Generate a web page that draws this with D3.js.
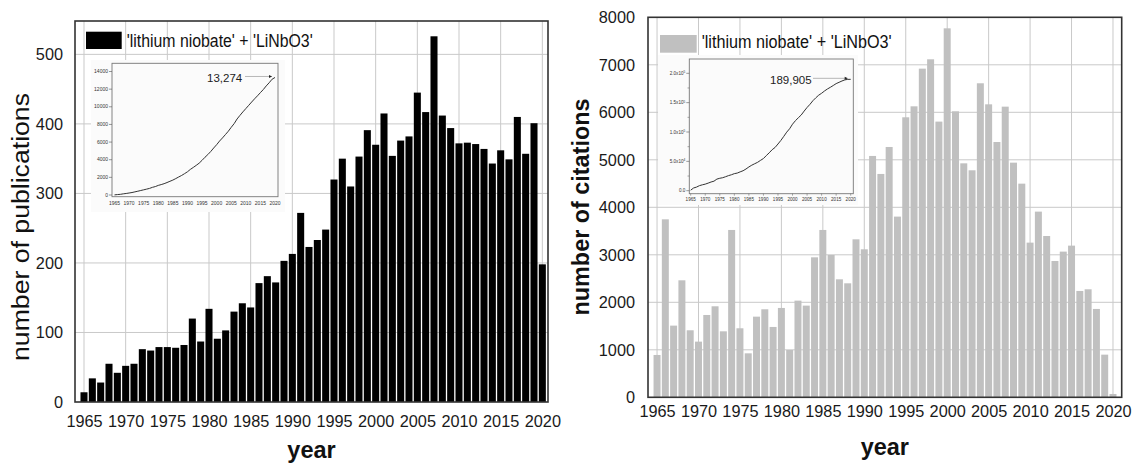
<!DOCTYPE html>
<html><head><meta charset="utf-8">
<script src="https://cdn.jsdelivr.net/npm/d3@7"></script>
<style>
body{margin:0;background:#fff;}
svg{display:block;font-family:"Liberation Sans",Arial,Helvetica,sans-serif;}
</style></head><body>
<svg id="c" width="1135" height="465"></svg>
<script>
// ---------- data ----------
const years = [1965,1966,1967,1968,1969,1970,1971,1972,1973,1974,1975,1976,1977,1978,1979,1980,1981,1982,1983,1984,1985,1986,1987,1988,1989,1990,1991,1992,1993,1994,1995,1996,1997,1998,1999,2000,2001,2002,2003,2004,2005,2006,2007,2008,2009,2010,2011,2012,2013,2014,2015,2016,2017,2018,2019,2020];
const publications = [14,34,28,55,42,52,55,76,74,79,79,78,82,120,87,134,91,103,130,142,136,171,181,172,203,213,272,223,233,248,320,350,310,353,391,370,415,354,376,382,445,417,526,412,394,372,373,371,364,343,362,349,410,357,401,198];
const citations = [891,3747,1509,2463,1411,1172,1733,1916,1389,3523,1453,926,1698,1853,1481,1881,996,2035,1930,2947,3523,2996,2484,2400,3326,3116,5081,4702,5270,3804,5895,6126,6919,7116,5804,7768,6021,4926,4779,6611,6168,5375,6119,4940,4498,3256,3909,3396,2870,3067,3193,2239,2274,1860,898,70];
const yearTicks = [1965,1970,1975,1980,1985,1990,1995,2000,2005,2010,2015,2020];
const pubTicks = [0,100,200,300,400,500];
const citTicks = [0,1000,2000,3000,4000,5000,6000,7000,8000];
const pubInsetTicks = [0,2000,4000,6000,8000,10000,12000,14000];
const citInsetTicks = [0,50000,100000,150000,200000];
const citInsetMinor = [25000,75000,125000,175000];
const citInsetTickLabels = [["0.0",""],["5.0x10","4"],["1.0x10","5"],["1.5x10","5"],["2.0x10","5"]];
const legendLabel = "'lithium niobate' + 'LiNbO3'";
const pubTotalLabel = "13,274";
const citTotalLabel = "189,905";
const pubYTitle = "number of publications";
const citYTitle = "number of citations";
const xTitle = "year";

const svg = d3.select("#c");
svg.append("rect").attr("width",1135).attr("height",465).attr("fill","#fff");

function panel(cfg){
  const g = svg.append("g");
  const x = d3.scaleLinear().domain(cfg.xDom).range([cfg.x0,cfg.x1]);
  const y = d3.scaleLinear().domain([0,cfg.yMax]).range([cfg.y1,cfg.y0]);
  // grid
  g.append("g").selectAll("line").data(cfg.yTicks.filter(d=>d>0 && y(d)>cfg.y0+1)).join("line")
    .attr("x1",cfg.x0).attr("x2",cfg.x1).attr("y1",d=>y(d)).attr("y2",d=>y(d))
    .attr("stroke","#c9c9c9").attr("stroke-width",1);
  g.append("g").selectAll("line").data(yearTicks).join("line")
    .attr("x1",d=>x(d)).attr("x2",d=>x(d)).attr("y1",cfg.y0).attr("y2",cfg.y1)
    .attr("stroke","#c9c9c9").attr("stroke-width",1);
  // bars
  const step = x(1966)-x(1965);
  const bw = step-1.3;
  g.append("g").selectAll("rect").data(cfg.values).join("rect")
    .attr("x",(d,i)=>x(years[i])-bw/2).attr("width",bw)
    .attr("y",d=>y(d)).attr("height",d=>y(0)-y(d))
    .attr("fill",cfg.barColor);
  // axes
  const ya = g.append("g").attr("transform",`translate(${cfg.x0},0)`)
    .call(d3.axisLeft(y).tickValues(cfg.yTicks).tickSize(0).tickPadding(cfg.yPad).tickFormat(d3.format("d")));
  const xa = g.append("g").attr("transform",`translate(0,${cfg.y1})`)
    .call(d3.axisBottom(x).tickValues(yearTicks).tickSize(0).tickPadding(cfg.xPad).tickFormat(d3.format("d")));
  [ya,xa].forEach(a=>{a.select(".domain").remove();
    a.selectAll("text").attr("font-size",16.3).attr("fill","#1a1a1a").attr("font-family","Liberation Sans, Arial, sans-serif");});
  // legend
  g.append("rect").attr("x",cfg.leg[0]).attr("y",cfg.leg[1]).attr("width",cfg.leg[2]).attr("height",cfg.leg[3])
    .attr("fill",cfg.barColor);
  g.append("text").attr("x",cfg.leg[0]+cfg.leg[2]+5).attr("y",cfg.legBase)
    .attr("font-size",17.5).attr("fill","#111").attr("textLength",cfg.legLen).attr("lengthAdjust","spacingAndGlyphs")
    .text(legendLabel);
  // titles
  g.append("text").attr("transform",`translate(${cfg.ytX},${cfg.ytY}) rotate(-90)`)
    .attr("text-anchor","middle").attr("font-size",cfg.ytSize).attr("font-weight",cfg.ytWeight)
    .attr("textLength",cfg.ytLen).attr("lengthAdjust","spacingAndGlyphs").attr("fill","#111")
    .text(cfg.yTitle);
  g.append("text").attr("x",(cfg.x0+cfg.x1)/2).attr("y",cfg.xtY).attr("text-anchor","middle")
    .attr("font-size",23.5).attr("font-weight","bold").attr("fill","#111").text(xTitle);
  // inset
  const I = cfg.inset;
  g.append("rect").attr("x",I.bg[0]).attr("y",I.bg[1]).attr("width",I.bg[2]-I.bg[0]).attr("height",I.bg[3]-I.bg[1])
    .attr("fill","#fbfbfb");
  const ix = d3.scaleLinear().domain([1965,2020]).range(I.xr);
  const iy = d3.scaleLinear().domain(I.yd).range(I.yr);
  g.append("rect").attr("x",I.fr[0]).attr("y",I.fr[1]).attr("width",I.fr[2]-I.fr[0]).attr("height",I.fr[3]-I.fr[1])
    .attr("fill","none").attr("stroke","#777").attr("stroke-width",0.9);
  const cum = d3.cumsum(cfg.values);
  g.append("path").datum(Array.from(cum))
    .attr("d",d3.line().x((d,i)=>ix(years[i])).y(d=>iy(d)))
    .attr("fill","none").attr("stroke","#333").attr("stroke-width",1);
  // inset y ticks
  g.append("g").selectAll("line").data(I.yTicks).join("line")
    .attr("x1",I.fr[0]-3).attr("x2",I.fr[0]).attr("y1",d=>iy(d)).attr("y2",d=>iy(d))
    .attr("stroke","#555").attr("stroke-width",0.6);
  if(I.minor){
    g.append("g").selectAll("line").data(I.minor).join("line")
      .attr("x1",I.fr[0]-1.8).attr("x2",I.fr[0]).attr("y1",d=>iy(d)).attr("y2",d=>iy(d))
      .attr("stroke","#555").attr("stroke-width",0.5);
  }
  const yl = g.append("g").selectAll("text").data(I.yTicks).join("text")
    .attr("x",I.fr[0]-4).attr("y",d=>iy(d)+1.6).attr("text-anchor","end")
    .attr("font-size",I.fs).attr("fill","#333");
  if(I.labels){
    yl.each(function(d,i){
      const t=d3.select(this);
      t.append("tspan").text(I.labels[i][0]);
      if(I.labels[i][1]) t.append("tspan").attr("dy",-1.6).attr("font-size",I.fs*0.7).text(I.labels[i][1]);
    });
  } else yl.text(d=>d);
  // inset x ticks
  if(I.xTickMarks){
    g.append("g").selectAll("line").data(yearTicks).join("line")
      .attr("x1",d=>ix(d)).attr("x2",d=>ix(d)).attr("y1",I.fr[3]).attr("y2",I.fr[3]+2)
      .attr("stroke","#555").attr("stroke-width",0.5);
  }
  g.append("g").selectAll("text").data(yearTicks).join("text")
    .attr("x",d=>ix(d)).attr("y",I.xlY).attr("text-anchor","middle")
    .attr("font-size",I.fs).attr("fill","#333").text(d=>d);
  // annotation
  const total = cum[cum.length-1];
  const ex = ix(2020), ey = iy(total);
  g.append("text").attr("x",I.annX).attr("y",ey+4.5).attr("font-size",11.5).attr("fill","#222").text(I.annText);
  g.append("line").attr("x1",I.annLineX).attr("x2",ex-3).attr("y1",ey-1).attr("y2",ey-1)
    .attr("stroke","#999").attr("stroke-width",0.7);
  g.append("path").attr("d",`M${ex-6},${ey-2.5}L${ex-3},${ey-1}L${ex-6},${ey+0.5}Z`).attr("fill","#222");
  // frame
  g.append("rect").attr("x",cfg.x0).attr("y",cfg.y0).attr("width",cfg.x1-cfg.x0).attr("height",cfg.y1-cfg.y0)
    .attr("fill","none").attr("stroke","#333").attr("stroke-width",1.6);
}

panel({
  values: publications, barColor:"#000",
  x0:75, x1:548, y0:21, y1:402, xDom:[1963.92,2020.68], yMax:548,
  yTicks: pubTicks, yPad:12, xPad:13,
  leg:[86,31.7,35.7,17.3], legBase:46.5, legLen:186,
  yTitle: pubYTitle, ytX:28.5, ytY:227, ytSize:23, ytWeight:"normal", ytLen:268,
  xtY:458,
  inset:{bg:[91,60,285,212], fr:[112,63.3,278,196.7], xr:[114.5,275], yd:[0,14000], yr:[195,71.5],
    yTicks:pubInsetTicks, fs:5, xlY:205, annX:207, annText:pubTotalLabel, annLineX:245, xTickMarks:false}
});
panel({
  values: citations, barColor:"#c0c0c0",
  x0:648, x1:1121.7, y0:17.3, y1:397.3, xDom:[1963.91,2021.05], yMax:8000,
  yTicks: citTicks, yPad:13, xPad:8.5,
  leg:[660,35,36.7,17.7], legBase:48, legLen:190,
  yTitle: citYTitle, ytX:589, ytY:207, ytSize:23, ytWeight:"bold", ytLen:217,
  xtY:455,
  inset:{bg:[658,55,858,205], fr:[689.3,59,853.3,193.7], xr:[690.7,850.7], yd:[0,200000], yr:[190.7,73.3],
    yTicks:citInsetTicks, minor:citInsetMinor, labels:citInsetTickLabels, fs:4.6, xlY:200.8,
    annX:770, annText:citTotalLabel, annLineX:813, xTickMarks:true}
});
</script>
</body></html>
